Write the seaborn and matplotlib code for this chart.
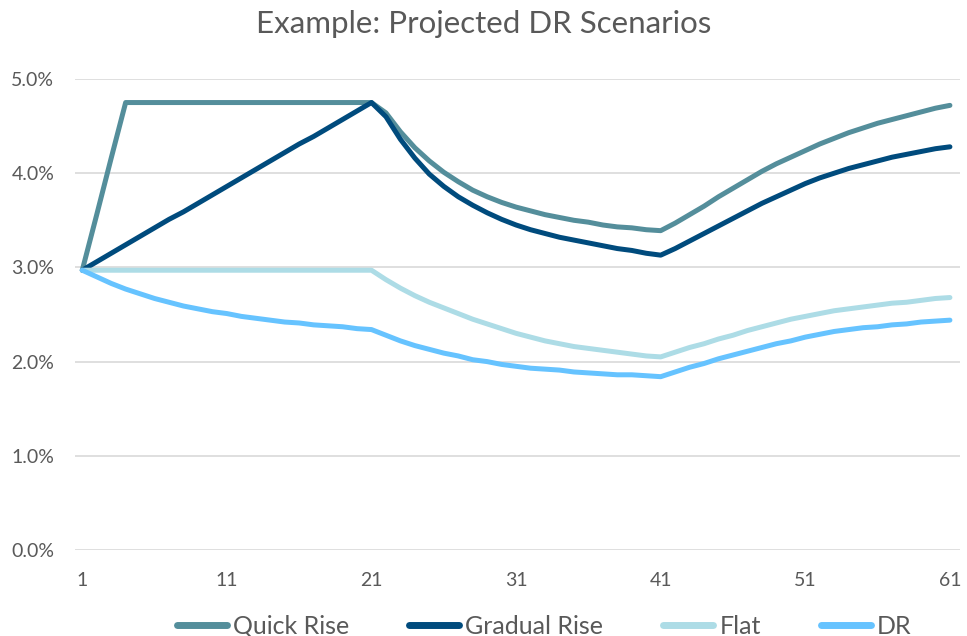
import numpy as np
import pandas as pd
import matplotlib
matplotlib.use("Agg")
import matplotlib.pyplot as plt
import seaborn as sns
from matplotlib.lines import Line2D

periods = list(range(1, 62))

quick_rise = [2.97, 3.56, 4.16, 4.75, 4.75, 4.75, 4.75, 4.75, 4.75, 4.75,
              4.75, 4.75, 4.75, 4.75, 4.75, 4.75, 4.75, 4.75, 4.75, 4.75,
              4.75, 4.64, 4.44, 4.27, 4.13, 4.01, 3.91, 3.82, 3.75, 3.69,
              3.64, 3.60, 3.56, 3.53, 3.50, 3.48, 3.45, 3.43, 3.42, 3.40,
              3.39, 3.47, 3.56, 3.65, 3.75, 3.84, 3.93, 4.02, 4.10, 4.17,
              4.24, 4.31, 4.37, 4.43, 4.48, 4.53, 4.57, 4.61, 4.65, 4.69,
              4.72]

gradual_rise = [2.97, 3.06, 3.15, 3.24, 3.33, 3.42, 3.51, 3.59, 3.68, 3.77,
                3.86, 3.95, 4.04, 4.13, 4.22, 4.31, 4.39, 4.48, 4.57, 4.66,
                4.75, 4.60, 4.36, 4.16, 3.99, 3.86, 3.75, 3.66, 3.58, 3.51,
                3.45, 3.40, 3.36, 3.32, 3.29, 3.26, 3.23, 3.20, 3.18, 3.15,
                3.13, 3.20, 3.28, 3.36, 3.44, 3.52, 3.60, 3.68, 3.75, 3.82,
                3.89, 3.95, 4.00, 4.05, 4.09, 4.13, 4.17, 4.20, 4.23, 4.26,
                4.28]

flat = [2.97, 2.97, 2.97, 2.97, 2.97, 2.97, 2.97, 2.97, 2.97, 2.97,
        2.97, 2.97, 2.97, 2.97, 2.97, 2.97, 2.97, 2.97, 2.97, 2.97,
        2.97, 2.87, 2.78, 2.70, 2.63, 2.57, 2.51, 2.45, 2.40, 2.35,
        2.30, 2.26, 2.22, 2.19, 2.16, 2.14, 2.12, 2.10, 2.08, 2.06,
        2.05, 2.10, 2.15, 2.19, 2.24, 2.28, 2.33, 2.37, 2.41, 2.45,
        2.48, 2.51, 2.54, 2.56, 2.58, 2.60, 2.62, 2.63, 2.65, 2.67,
        2.68]

dr = [2.97, 2.90, 2.83, 2.77, 2.72, 2.67, 2.63, 2.59, 2.56, 2.53,
      2.51, 2.48, 2.46, 2.44, 2.42, 2.41, 2.39, 2.38, 2.37, 2.35,
      2.34, 2.28, 2.22, 2.17, 2.13, 2.09, 2.06, 2.02, 2.00, 1.97,
      1.95, 1.93, 1.92, 1.91, 1.89, 1.88, 1.87, 1.86, 1.86, 1.85,
      1.84, 1.89, 1.94, 1.98, 2.03, 2.07, 2.11, 2.15, 2.19, 2.22,
      2.26, 2.29, 2.32, 2.34, 2.36, 2.37, 2.39, 2.40, 2.42, 2.43,
      2.44]

series_names = ["Quick Rise", "Gradual Rise", "Flat", "DR"]
colors = ["#548E9B", "#004B7D", "#ADDCE6", "#66C3FF"]
x_ticks = [1, 11, 21, 31, 41, 51, 61]
y_ticks = [0.0, 1.0, 2.0, 3.0, 4.0, 5.0]

df = pd.DataFrame({
    "Period": periods * 4,
    "Rate": quick_rise + gradual_rise + flat + dr,
    "Scenario": sum([[n] * len(periods) for n in series_names], []),
})

sns.set_theme(style="white")
plt.rcParams["font.family"] = ["Lato", "DejaVu Sans"]
text_color = "#595959"

fig = plt.figure(figsize=(9.67, 6.36), dpi=100)
ax = fig.add_axes([0.0776, 0.1352, 0.9152, 0.7406])

sns.lineplot(data=df, x="Period", y="Rate", hue="Scenario",
             hue_order=series_names, palette=colors, linewidth=3.6,
             ax=ax, legend=False, solid_capstyle="round")

ax.set_xlim(0.5, 61.7)
ax.set_ylim(0, 5.0)
ax.set_xticks(x_ticks)
ax.set_xticklabels([str(t) for t in x_ticks])
ax.set_yticks(y_ticks)
ax.set_yticklabels([f"{t:.1f}%" for t in y_ticks])
ax.yaxis.grid(True, color="#D9D9D9", linewidth=1.2)
ax.xaxis.grid(False)
ax.set_axisbelow(True)
for s in ax.spines.values():
    s.set_visible(False)
ax.tick_params(axis="both", length=0, labelsize=14, colors=text_color)
ax.tick_params(axis="y", pad=15)
ax.tick_params(axis="x", pad=16)
ax.set_xlabel("")
ax.set_ylabel("")

fig.text(0.5, 0.962, "Example: Projected DR Scenarios", ha="center", va="center",
         fontsize=22.5, color=text_color)

handles = [Line2D([0], [0], color=c, lw=5, solid_capstyle="round") for c in colors]
fig.legend(handles, series_names, loc="center left",
           bbox_to_anchor=(176.5 / 967, 0.0157),
           ncol=4, frameon=False, fontsize=18, labelcolor=text_color,
           borderpad=0, borderaxespad=0,
           handlelength=2.0, handletextpad=0.25, columnspacing=2.4)

fig.savefig("out.png", dpi=100)
